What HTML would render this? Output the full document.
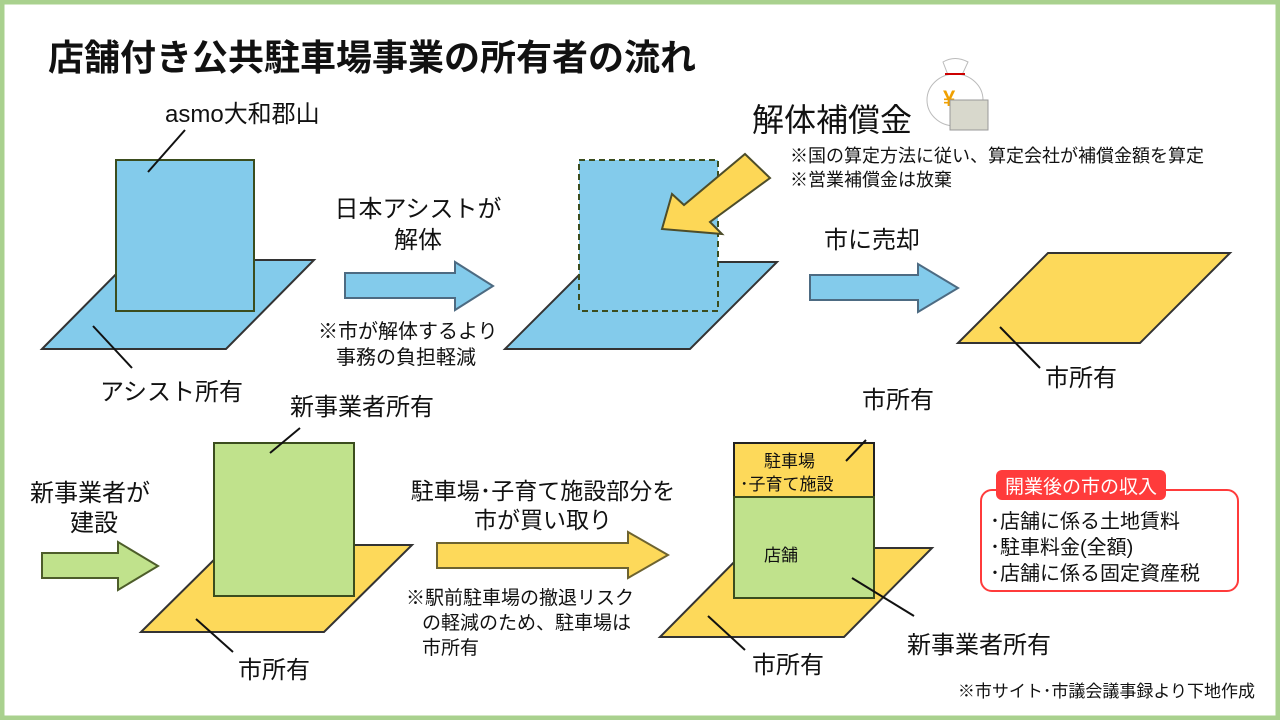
<!DOCTYPE html>
<html><head><meta charset="utf-8"><style>
body{margin:0;width:1280px;height:720px;overflow:hidden;background:#fff}
svg{display:block}
text{font-family:"Liberation Sans","Noto Sans CJK JP",sans-serif;fill:#111}
</style></head><body>
<svg width="1280" height="720" viewBox="0 0 1280 720">
<rect x="2" y="2" width="1276" height="716" fill="#fff" stroke="#a9d18e" stroke-width="5"/>
<text x="48" y="70" font-size="36" font-weight="bold">店舗付き公共駐車場事業の所有者の流れ</text>

<polygon points="42,349 130,260 314,260 226,349" fill="#83cbeb" stroke="#333" stroke-width="2"/>
<rect x="116" y="160" width="138" height="151" fill="#83cbeb" stroke="#3b4d1e" stroke-width="2"/>
<line x1="148" y1="172" x2="185" y2="130" stroke="#111" stroke-width="2"/>
<line x1="93" y1="326" x2="132" y2="368" stroke="#111" stroke-width="2"/>
<text x="165" y="122" font-size="24">asmo大和郡山</text>
<text x="100" y="400" font-size="24">アシスト所有</text>

<polygon points="345,273 455,273 455,262 493,286 455,310 455,298 345,298" fill="#83cbeb" stroke="#4d6b82" stroke-width="2"/>
<text x="418" y="217" font-size="24" text-anchor="middle">日本アシストが</text>
<text x="418" y="248" font-size="24" text-anchor="middle">解体</text>
<text x="318" y="338" font-size="20">※市が解体するより</text>
<text x="336" y="364" font-size="20">事務の負担軽減</text>

<polygon points="505,349 592,262 777,262 690,349" fill="#83cbeb" stroke="#333" stroke-width="2"/>
<rect x="579" y="160" width="139" height="151" fill="#83cbeb" stroke="#3b4d1e" stroke-width="2" stroke-dasharray="6,4"/>
<polygon points="745,154 770,178 710,222 722,234 662,229 672,194 684,205" fill="#fdd756" stroke="#4d4d2a" stroke-width="2"/>
<text x="752" y="131" font-size="32">解体補償金</text>
<text x="790" y="162" font-size="18">※国の算定方法に従い、算定会社が補償金額を算定</text>
<text x="790" y="186" font-size="18">※営業補償金は放棄</text>
<path d="M943 62 Q955 55 968 62 L962 75 L948 75Z" fill="#fff" stroke="#bbb"/>
<ellipse cx="955" cy="100" rx="28" ry="26" fill="#fff" stroke="#bbb"/>
<line x1="945" y1="74" x2="965" y2="74" stroke="#c00" stroke-width="2"/>
<text x="943" y="106" font-size="22" style="fill:#f0a000" font-weight="bold">¥</text>
<rect x="950" y="100" width="38" height="30" fill="#d8d8cc" stroke="#999"/>

<polygon points="810,275 918,275 918,264 958,288 918,312 918,300 810,300" fill="#83cbeb" stroke="#4d6b82" stroke-width="2"/>
<text x="872" y="248" font-size="24" text-anchor="middle">市に売却</text>

<polygon points="958,343 1048,253 1230,253 1140,343" fill="#fdd95a" stroke="#333" stroke-width="2"/>
<line x1="1000" y1="327" x2="1040" y2="368" stroke="#111" stroke-width="2"/>
<text x="1045" y="386" font-size="24">市所有</text>

<text x="30" y="501" font-size="24">新事業者が</text>
<text x="70" y="531" font-size="24">建設</text>
<polygon points="42,553 118,553 118,542 158,566 118,590 118,578 42,578" fill="#c0e28c" stroke="#4d5d2a" stroke-width="2"/>
<polygon points="141,632 229,545 412,545 324,632" fill="#fdd95a" stroke="#333" stroke-width="2"/>
<rect x="214" y="443" width="140" height="153" fill="#c0e28c" stroke="#3b4d1e" stroke-width="2"/>
<line x1="270" y1="453" x2="300" y2="428" stroke="#111" stroke-width="2"/>
<line x1="196" y1="619" x2="233" y2="652" stroke="#111" stroke-width="2"/>
<text x="290" y="415" font-size="24">新事業者所有</text>
<text x="238" y="678" font-size="24">市所有</text>

<text x="543" y="499" font-size="23" text-anchor="middle">駐車場･子育て施設部分を</text>
<text x="543" y="528" font-size="23" text-anchor="middle">市が買い取り</text>
<polygon points="437,543 628,543 628,532 668,555 628,578 628,568 437,568" fill="#fdd95a" stroke="#6d6330" stroke-width="2"/>
<text x="406" y="604" font-size="19">※駅前駐車場の撤退リスク</text>
<text x="422" y="629" font-size="19">の軽減のため、駐車場は</text>
<text x="422" y="654" font-size="19">市所有</text>

<polygon points="660,637 748,548 932,548 844,637" fill="#fdd95a" stroke="#333" stroke-width="2"/>
<rect x="734" y="443" width="140" height="54" fill="#fdd95a" stroke="#222" stroke-width="2"/>
<rect x="734" y="497" width="140" height="101" fill="#c0e28c" stroke="#3b4d1e" stroke-width="2"/>
<text x="764" y="467" font-size="17">駐車場</text>
<text x="740" y="490" font-size="17">･子育て施設</text>
<text x="764" y="561" font-size="17">店舗</text>
<line x1="846" y1="461" x2="866" y2="440" stroke="#111" stroke-width="2"/>
<line x1="852" y1="578" x2="914" y2="616" stroke="#111" stroke-width="2"/>
<line x1="708" y1="616" x2="745" y2="650" stroke="#111" stroke-width="2"/>
<text x="862" y="408" font-size="24">市所有</text>
<text x="907" y="653" font-size="24">新事業者所有</text>
<text x="752" y="673" font-size="24">市所有</text>

<rect x="981" y="490" width="257" height="101" rx="11" fill="#fff" stroke="#ff3b3b" stroke-width="2"/>
<rect x="996" y="470" width="170" height="30" rx="6" fill="#ff3b3b"/>
<text x="1081" y="493" font-size="19" text-anchor="middle" style="fill:#fff">開業後の市の収入</text>
<text x="990" y="528" font-size="20">･店舗に係る土地賃料</text>
<text x="990" y="554" font-size="20">･駐車料金(全額)</text>
<text x="990" y="580" font-size="20">･店舗に係る固定資産税</text>

<text x="1255" y="697" font-size="17" text-anchor="end">※市サイト･市議会議事録より下地作成</text>
</svg>
</body></html>
